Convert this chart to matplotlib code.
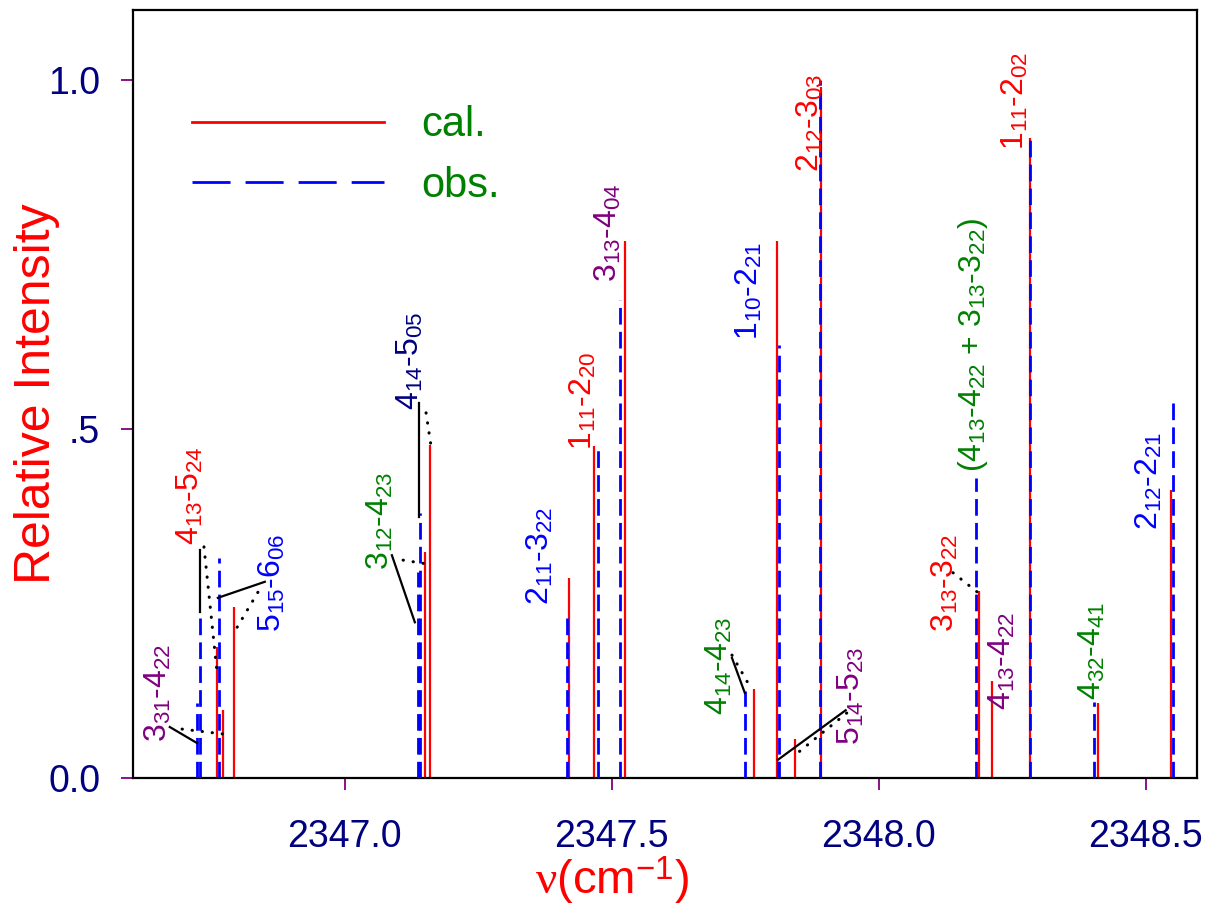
import matplotlib
matplotlib.use("Agg")
import matplotlib.pyplot as plt
from matplotlib.lines import Line2D

plt.rcParams['font.family'] = ['Liberation Sans', 'DejaVu Sans']
plt.rcParams['mathtext.fontset'] = 'custom'
plt.rcParams['mathtext.rm'] = 'Liberation Sans'
plt.rcParams['mathtext.it'] = 'Liberation Serif'
plt.rcParams['mathtext.bf'] = 'Liberation Sans:bold'

# calculated transitions: wavenumber (cm-1) and relative intensity
cal_nu = [2346.761, 2346.771, 2346.793, 2347.150, 2347.160, 2347.419, 2347.466,
          2347.524, 2347.766, 2347.810, 2347.843, 2347.891, 2348.187, 2348.212,
          2348.283, 2348.410, 2348.547]
cal_int = [0.188, 0.097, 0.245, 0.324, 0.477, 0.287, 0.476,
           0.769, 0.128, 0.769, 0.056, 0.990, 0.268, 0.139,
           0.917, 0.107, 0.413]

# observed lines
obs_nu = [2346.723, 2346.729, 2346.764, 2347.136, 2347.140, 2347.416, 2347.474,
          2347.515, 2347.750, 2347.811, 2347.813, 2347.889, 2348.183, 2348.283,
          2348.403, 2348.552]
obs_int = [0.107, 0.234, 0.315, 0.295, 0.380, 0.235, 0.478,
           0.685, 0.124, 0.026, 0.620, 1.000, 0.430, 0.924,
           0.109, 0.544]

# assignments
lbl_text = [r"$3_{31}$-$4_{22}$", r"$4_{13}$-$5_{24}$", r"$5_{15}$-$6_{06}$",
            r"$3_{12}$-$4_{23}$", r"$4_{14}$-$5_{05}$", r"$2_{11}$-$3_{22}$",
            r"$1_{11}$-$2_{20}$", r"$3_{13}$-$4_{04}$", r"$4_{14}$-$4_{23}$",
            r"$1_{10}$-$2_{21}$", r"$2_{12}$-$3_{03}$", r"$5_{14}$-$5_{23}$",
            r"$3_{13}$-$3_{22}$", r"($4_{13}$-$4_{22}$ + $3_{13}$-$3_{22}$)",
            r"$4_{13}$-$4_{22}$", r"$1_{11}$-$2_{02}$", r"$4_{32}$-$4_{41}$",
            r"$2_{12}$-$2_{21}$"]
lbl_x = [2346.650, 2346.710, 2346.863, 2347.066, 2347.122, 2347.365,
         2347.446, 2347.493, 2347.702, 2347.758, 2347.871, 2347.949,
         2348.124, 2348.176, 2348.232, 2348.255, 2348.399, 2348.507]
lbl_y = [0.052, 0.334, 0.209, 0.298, 0.527, 0.248,
         0.470, 0.711, 0.090, 0.627, 0.868, 0.047,
         0.209, 0.438, 0.097, 0.900, 0.112, 0.355]
lbl_color = ['#800080', '#ff0000', '#0000ff', '#008000', '#000080', '#0000ff',
             '#ff0000', '#800080', '#008000', '#0000ff', '#ff0000', '#800080',
             '#ff0000', '#008000', '#800080', '#ff0000', '#008000', '#0000ff']

# leader lines from crowded labels: solid -> observed, dotted -> calculated
solid_lead = [((2346.672, 0.073), (2346.723, 0.050)),
              ((2346.728, 0.327), (2346.728, 0.238)),
              ((2346.850, 0.281), (2346.762, 0.258)),
              ((2347.088, 0.319), (2347.131, 0.223)),
              ((2347.139, 0.537), (2347.139, 0.374)),
              ((2347.725, 0.172), (2347.749, 0.122)),
              ((2347.938, 0.097), (2347.811, 0.026))]
dot_lead = [((2346.695, 0.070), (2346.772, 0.063)),
            ((2346.736, 0.331), (2346.760, 0.155)),
            ((2346.837, 0.266), (2346.792, 0.208)),
            ((2347.109, 0.312), (2347.150, 0.307)),
            ((2347.152, 0.523), (2347.161, 0.477)),
            ((2347.725, 0.176), (2347.758, 0.132)),
            ((2347.940, 0.093), (2347.845, 0.034)),
            ((2348.139, 0.294), (2348.185, 0.266))]

xticks = [2347.0, 2347.5, 2348.0, 2348.5]
xticklabels = ["2347.0", "2347.5", "2348.0", "2348.5"]
yticks = [0.0, 0.5, 1.0]
yticklabels = ["0.0", ".5", "1.0"]

fig = plt.figure(figsize=(12.11, 9.08), dpi=100)
ax = fig.add_axes([0.1098, 0.1432, 0.8786, 0.8458])

ax.vlines(cal_nu, 0, cal_int, colors='#ff0000', linewidth=1.6, zorder=2)
ax.vlines(obs_nu, 0, obs_int, colors='#0000ff', linewidth=2.0,
          linestyles=(0, (6, 2.6)), zorder=3)

for (x0, y0), (x1, y1) in solid_lead:
    ax.plot([x0, x1], [y0, y1], color='black', linewidth=1.6, zorder=4)
for (x0, y0), (x1, y1) in dot_lead:
    ax.plot([x0, x1], [y0, y1], color='black', linewidth=2.2,
            linestyle=(0, (0.1, 3.2)), dash_capstyle='round', zorder=4)

for t, x, y, c in zip(lbl_text, lbl_x, lbl_y, lbl_color):
    ax.text(x, y, t, rotation=90, ha='center', va='bottom', color=c, fontsize=23)

ax.set_xlim(2346.603, 2348.596)
ax.set_ylim(0, 1.10)
ax.set_xticks(xticks)
ax.set_xticklabels(xticklabels)
ax.set_yticks(yticks)
ax.set_yticklabels(yticklabels)
ax.tick_params(axis='both', direction='out', length=8.5, width=1.3,
               color='#800080', labelcolor='#000080', labelsize=27)
ax.tick_params(axis='x', pad=21)
ax.tick_params(axis='y', pad=15)
for s in ax.spines.values():
    s.set_linewidth(1.6)

ax.set_ylabel("Relative Intensity", color='#ff0000', fontsize=36)
ax.yaxis.set_label_coords(-0.069, 0.5)
ax.set_xlabel(r"$\nu$(cm$^{-1}$)", color='#ff0000', fontsize=34)
ax.xaxis.set_label_coords(0.45, -0.1)

handles = [Line2D([], [], color='#ff0000', linewidth=2.0),
           Line2D([], [], color='#0000ff', linewidth=2.0, linestyle=(0, (13.7, 5.4)))]
leg = ax.legend(handles, ["cal.", "obs."], loc='upper left',
                bbox_to_anchor=(0.0555, 0.876), frameon=False, fontsize=30,
                handlelength=4.6, handletextpad=0.9, labelspacing=0.5,
                borderpad=0, borderaxespad=0, labelcolor='#008000')

fig.savefig("out.png", dpi=100)
